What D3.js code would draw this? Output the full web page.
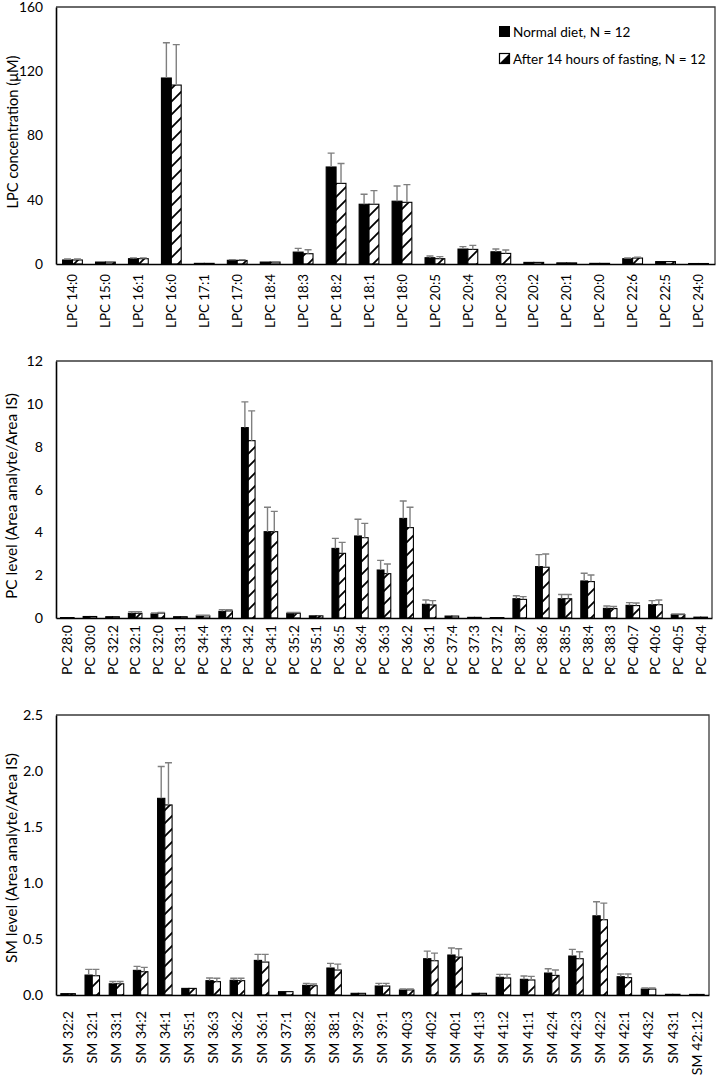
<!DOCTYPE html>
<html>
<head>
<meta charset="utf-8">
<script src="https://cdn.jsdelivr.net/npm/d3@7"></script>
<style>
  html, body { margin: 0; padding: 0; background: #fff; }
  svg { display: block; font-family: Lato, "Open Sans", sans-serif; }
</style>
</head>
<body>
<svg id="chart" width="716" height="1078"></svg>
<script>
// ---------------- DATA ----------------
const seriesNames = ["Normal diet, N = 12", "After 14 hours of fasting, N = 12"];

const lpcCategories = ["LPC 14:0","LPC 15:0","LPC 16:1","LPC 16:0","LPC 17:1","LPC 17:0","LPC 18:4","LPC 18:3","LPC 18:2","LPC 18:1","LPC 18:0","LPC 20:5","LPC 20:4","LPC 20:3","LPC 20:2","LPC 20:1","LPC 20:0","LPC 22:6","LPC 22:5","LPC 24:0"];
const lpcNormal    = [2.5,1.2,3.3,115.8,0.4,2.3,1.2,7.4,60.4,37.2,39.1,3.9,9.3,7.6,1.0,0.7,0.4,3.3,1.5,0.3];
const lpcNormalErr = [0.6,0.3,0.5,21.9,0.1,0.4,0.3,2.3,8.6,6.2,9.5,1.1,1.5,1.7,0.3,0.2,0.1,0.4,0.3,0.1];
const lpcFasting    = [2.5,1.2,3.3,111.4,0.4,2.2,1.2,6.4,50.2,37.2,38.4,3.3,9.1,6.6,1.0,0.7,0.4,3.7,1.5,0.3];
const lpcFastingErr = [0.6,0.3,0.5,25.2,0.1,0.4,0.3,2.5,12.4,8.5,11.0,1.3,2.5,2.1,0.3,0.2,0.1,0.5,0.3,0.1];
const lpcTicks = [0,40,80,120,160];

const pcCategories = ["PC 28:0","PC 30:0","PC 32:2","PC 32:1","PC 32:0","PC 33:1","PC 34:4","PC 34:3","PC 34:2","PC 34:1","PC 35:2","PC 35:1","PC 36:5","PC 36:4","PC 36:3","PC 36:2","PC 36:1","PC 37:4","PC 37:3","PC 37:2","PC 38:7","PC 38:6","PC 38:5","PC 38:4","PC 38:3","PC 40:7","PC 40:6","PC 40:5","PC 40:4"];
const pcNormal    = [0.02,0.07,0.06,0.22,0.19,0.06,0.10,0.31,8.89,4.03,0.22,0.10,3.25,3.83,2.24,4.65,0.64,0.09,0.03,0.02,0.90,2.40,0.90,1.73,0.45,0.59,0.62,0.16,0.04];
const pcNormalErr = [0.01,0.02,0.01,0.08,0.05,0.01,0.03,0.08,1.20,1.14,0.04,0.02,0.47,0.78,0.45,0.81,0.20,0.02,0.01,0.01,0.14,0.56,0.20,0.36,0.11,0.13,0.19,0.03,0.01];
const pcFasting    = [0.02,0.07,0.06,0.22,0.23,0.06,0.10,0.33,8.28,4.03,0.22,0.10,3.02,3.75,2.07,4.22,0.61,0.09,0.03,0.02,0.87,2.37,0.90,1.70,0.44,0.58,0.62,0.16,0.04];
const pcFastingErr = [0.01,0.02,0.01,0.08,0.03,0.01,0.03,0.06,1.39,0.95,0.04,0.02,0.51,0.67,0.45,0.95,0.20,0.02,0.01,0.01,0.13,0.62,0.20,0.31,0.10,0.12,0.22,0.03,0.01];
const pcTicks = [0,2,4,6,8,10,12];

const smCategories = ["SM 32:2","SM 32:1","SM 33:1","SM 34:2","SM 34:1","SM 35:1","SM 36:3","SM 36:2","SM 36:1","SM 37:1","SM 38:2","SM 38:1","SM 39:2","SM 39:1","SM 40:3","SM 40:2","SM 40:1","SM 41:3","SM 41:2","SM 41:1","SM 42:4","SM 42:3","SM 42:2","SM 42:1","SM 43:2","SM 43:1","SM 42:1:2"];
const smNormal    = [0.012,0.178,0.10,0.22,1.756,0.059,0.128,0.131,0.309,0.03,0.086,0.241,0.015,0.08,0.045,0.324,0.357,0.015,0.158,0.14,0.196,0.348,0.707,0.163,0.053,0.006,0.005];
const smNormalErr = [0.003,0.051,0.02,0.036,0.284,0.005,0.024,0.018,0.054,0.005,0.018,0.041,0.003,0.024,0.008,0.068,0.062,0.003,0.026,0.029,0.039,0.059,0.125,0.024,0.009,0.002,0.002];
const smFasting    = [0.012,0.172,0.10,0.208,1.697,0.059,0.119,0.128,0.294,0.03,0.083,0.223,0.015,0.08,0.045,0.306,0.339,0.015,0.152,0.134,0.175,0.324,0.672,0.155,0.053,0.006,0.005];
const smFastingErr = [0.003,0.057,0.02,0.039,0.377,0.005,0.03,0.021,0.069,0.005,0.015,0.053,0.003,0.024,0.008,0.068,0.074,0.003,0.032,0.032,0.048,0.062,0.148,0.032,0.009,0.002,0.002];
const smTicks = [0,0.5,1.0,1.5,2.0,2.5];

// ---------------- DRAW ----------------
const FONT = "Lato, 'Open Sans', sans-serif";
const svg = d3.select("#chart");

// font size that makes `str` span `target` pixels
const probe = svg.append("text").attr("font-family", FONT).attr("font-size", 100).attr("x", -1000).attr("y", -1000);
function fitSize(str, target) {
  probe.text(str);
  const w = probe.node().getComputedTextLength();
  return 100 * target / w;
}

const defs = svg.append("defs");
const hatch = defs.append("pattern")
  .attr("id", "hatch")
  .attr("patternUnits", "userSpaceOnUse")
  .attr("width", 13).attr("height", 13);
hatch.append("rect").attr("width", 13).attr("height", 13).attr("fill", "#fff");
hatch.append("path")
  .attr("d", "M-3,16 L16,-3 M-6,6 L6,-6 M7,19 L19,7")
  .attr("stroke", "#000").attr("stroke-width", 1.8);

function drawPanel(cfg) {
  const g = svg.append("g");
  const x = d3.scaleBand().domain(cfg.categories)
    .range([cfg.left, cfg.right]).paddingInner(0.4).paddingOuter(0.2);
  const xs = d3.scaleBand().domain([0, 1]).range([0, x.bandwidth()]);
  const y = d3.scaleLinear().domain([0, cfg.max]).range([cfg.bottom, cfg.top]);

  g.append("path")
    .attr("d", `M${cfg.left},${cfg.top} H${cfg.right} V${cfg.bottom}`)
    .attr("fill", "none").attr("stroke", "#3a3a3a").attr("stroke-width", 1.3);

  const series = [
    { vals: cfg.normal, errs: cfg.normalErr, fill: "#000" },
    { vals: cfg.fasting, errs: cfg.fastingErr, fill: "url(#hatch)" }
  ];

  series.forEach((s, si) => {
    g.append("g").selectAll("rect")
      .data(cfg.categories)
      .join("rect")
      .attr("x", c => x(c) + xs(si))
      .attr("y", (c, i) => y(s.vals[i]))
      .attr("width", xs.bandwidth())
      .attr("height", (c, i) => cfg.bottom - y(s.vals[i]))
      .attr("fill", s.fill)
      .attr("stroke", "#000")
      .attr("stroke-width", 1.1);
  });

  series.forEach((s, si) => {
    const eg = g.append("g").attr("stroke", "#7f7f7f").attr("stroke-width", 1.4).attr("fill", "none");
    cfg.categories.forEach((c, i) => {
      const cx = x(c) + xs(si) + xs.bandwidth() / 2;
      const y0 = y(s.vals[i]);
      const y1 = y(s.vals[i] + s.errs[i]);
      if (y0 - y1 < 0.6) return;
      eg.append("path").attr("d", `M${cx},${y0} V${y1} M${cx - 3.5},${y1} H${cx + 3.5}`);
    });
  });

  const tickSize = fitSize(cfg.tickSample, cfg.tickSampleW);
  const ya = d3.axisLeft(y).tickValues(cfg.ticks).tickSize(0).tickPadding(13)
    .tickFormat(cfg.fmt);
  const yg = g.append("g").attr("transform", `translate(${cfg.left},0)`).call(ya);
  yg.select(".domain").attr("stroke", "#000").attr("stroke-width", 1.6);
  yg.selectAll("text").attr("font-size", tickSize).attr("fill", "#000").attr("font-family", FONT);

  const labSize = fitSize(cfg.categories[0], cfg.labelW);
  const xa = d3.axisBottom(x).tickSize(0).tickPadding(0);
  const xg = g.append("g").attr("transform", `translate(0,${cfg.bottom})`).call(xa);
  xg.select(".domain").attr("stroke", "#000").attr("stroke-width", 1.6);
  xg.selectAll("text")
    .attr("font-size", labSize).attr("fill", "#000").attr("font-family", FONT)
    .attr("text-anchor", "end")
    .attr("transform", `rotate(-90)`)
    .attr("x", -cfg.labelGap).attr("y", 0).attr("dy", "0.35em");

  g.append("text")
    .attr("transform", `translate(${cfg.titleX},${cfg.titleY}) rotate(-90)`)
    .attr("text-anchor", "middle")
    .attr("dy", "0.35em")
    .attr("font-size", fitSize(cfg.title, cfg.titleW))
    .text(cfg.title);
}

drawPanel({
  categories: lpcCategories, normal: lpcNormal, normalErr: lpcNormalErr,
  fasting: lpcFasting, fastingErr: lpcFastingErr, ticks: lpcTicks, max: 160,
  fmt: d3.format("d"), tickSample: "160", tickSampleW: 24, labelW: 54,
  left: 56, right: 715, top: 7, bottom: 264, labelGap: 10, titleX: 13, titleY: 132, titleW: 153,
  title: "LPC concentration (\u03bcM)"
});
drawPanel({
  categories: pcCategories, normal: pcNormal, normalErr: pcNormalErr,
  fasting: pcFasting, fastingErr: pcFastingErr, ticks: pcTicks, max: 12,
  fmt: d3.format("d"), tickSample: "12", tickSampleW: 16.5, labelW: 50,
  left: 56, right: 712, top: 361, bottom: 618, labelGap: 7, titleX: 12, titleY: 496, titleW: 206,
  title: "PC level (Area analyte/Area IS)"
});
drawPanel({
  categories: smCategories, normal: smNormal, normalErr: smNormalErr,
  fasting: smFasting, fastingErr: smFastingErr, ticks: smTicks, max: 2.5,
  fmt: d3.format(".1f"), tickSample: "2.5", tickSampleW: 20, labelW: 52.5,
  left: 56, right: 709, top: 715, bottom: 995, labelGap: 16, titleX: 12, titleY: 858, titleW: 210,
  title: "SM level (Area analyte/Area IS)"
});

// legend
const legSize = fitSize(seriesNames[1], 193);
const lg = svg.append("g");
lg.append("rect").attr("x", 499).attr("y", 26).attr("width", 11).attr("height", 11).attr("fill", "#000");
lg.append("text").attr("x", 513).attr("y", 37).attr("font-size", legSize).text(seriesNames[0]);
lg.append("rect").attr("x", 499.5).attr("y", 53.5).attr("width", 10).attr("height", 10)
  .attr("fill", "#fff").attr("stroke", "#000").attr("stroke-width", 1.2);
lg.append("path").attr("d", "M500,63 L509,54 L509,63 Z").attr("fill", "#000");
lg.append("text").attr("x", 513).attr("y", 64).attr("font-size", legSize).text(seriesNames[1]);
probe.remove();
</script>
</body>
</html>
